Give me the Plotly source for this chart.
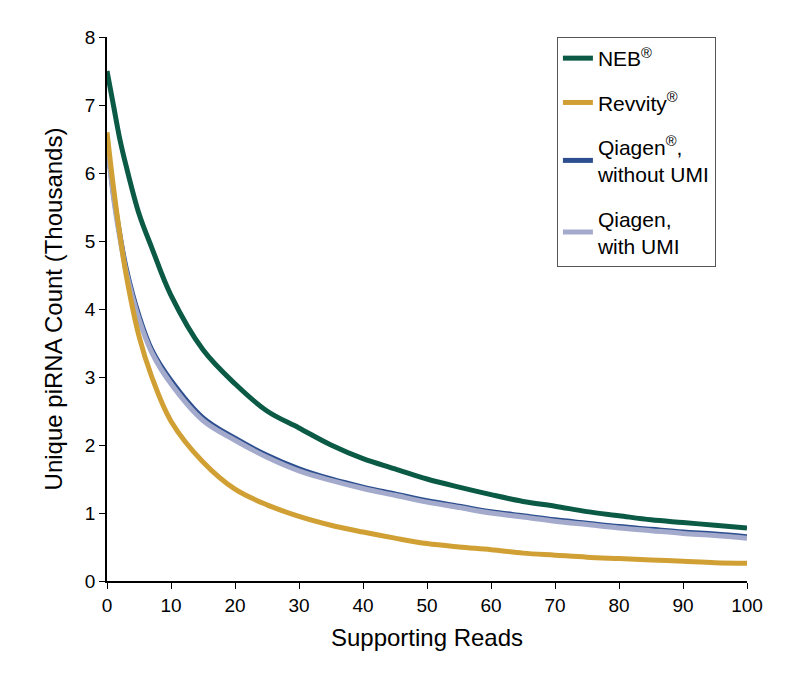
import plotly.graph_objects as go

x = [0, 1, 2, 3, 5, 7, 10, 15, 20, 25, 30, 35, 40, 45, 50, 55, 60, 65, 70, 75, 80, 85, 90, 95, 100]
neb = [7.5, 7.0, 6.5, 6.1, 5.4, 4.9, 4.2, 3.4, 2.9, 2.5, 2.25, 2.0, 1.8, 1.65, 1.5, 1.38, 1.27, 1.17, 1.1, 1.02, 0.96, 0.9, 0.86, 0.82, 0.78]
revvity = [6.6, 5.8, 5.1, 4.5, 3.6, 3.0, 2.35, 1.75, 1.35, 1.12, 0.95, 0.82, 0.72, 0.63, 0.55, 0.5, 0.46, 0.41, 0.38, 0.35, 0.33, 0.31, 0.29, 0.27, 0.26]
qiagen = [6.5, 5.7, 5.1, 4.6, 3.9, 3.4, 2.95, 2.4, 2.1, 1.85, 1.65, 1.5, 1.38, 1.28, 1.18, 1.1, 1.02, 0.96, 0.9, 0.85, 0.8, 0.76, 0.72, 0.69, 0.65]
qiagen_umi = [6.45, 5.65, 5.05, 4.55, 3.85, 3.36, 2.9, 2.36, 2.07, 1.82, 1.62, 1.48, 1.36, 1.26, 1.16, 1.08, 1.0, 0.94, 0.88, 0.83, 0.78, 0.74, 0.7, 0.67, 0.63]

series = [
    ("NEB<sup>®</sup>", neb, "#0b5a45", 1),
    ("Qiagen<sup>®</sup>,<br>without UMI", qiagen, "#2d4f8f", 3),
    ("Qiagen,<br>with UMI", qiagen_umi, "#a3aacb", 4),
    ("Revvity<sup>®</sup>", revvity, "#d1a034", 2),
]

fig = go.Figure()
for name, y, c, rank in series:
    fig.add_trace(go.Scatter(x=x, y=y, name=name, mode="lines", legendgroup=str(rank),
                             line=dict(color=c, width=5, shape="spline"), legendrank=rank))

axis = dict(showline=True, linecolor="black", linewidth=1.5, ticks="outside", ticklen=6,
            tickcolor="black", showgrid=False, zeroline=False, tickfont=dict(size=19, color="black"))
fig.update_xaxes(range=[0, 100], dtick=10, title=dict(text="Supporting Reads", font=dict(size=24)), **axis)
fig.update_yaxes(range=[0, 8], dtick=1, title=dict(text="Unique piRNA Count (Thousands)", font=dict(size=24)), **axis)
fig.update_layout(
    width=788, height=675, plot_bgcolor="white", paper_bgcolor="white",
    font=dict(family="Liberation Sans, Arial", color="black"),
    margin=dict(l=99, r=49, t=29, b=102),
    legend=dict(x=0.703, y=1, xanchor="left", yanchor="top", bordercolor="#555", borderwidth=1,
                font=dict(size=21), tracegroupgap=14, itemwidth=30),
)
fig.write_html("out.html")
